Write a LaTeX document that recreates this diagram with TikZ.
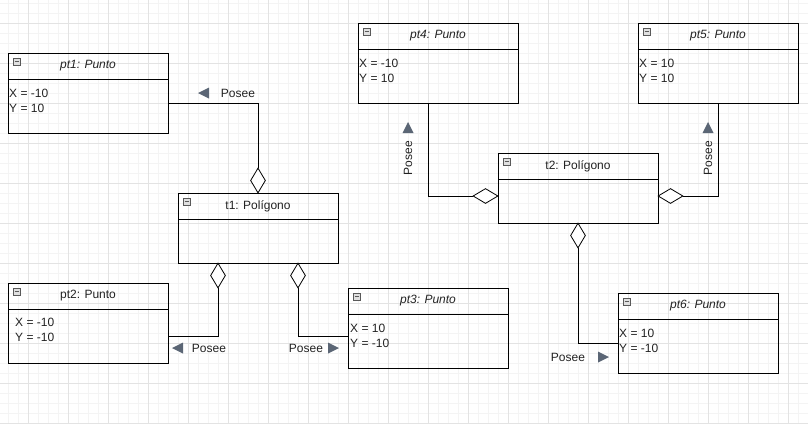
\documentclass[tikz,border=0pt]{standalone}
\usepackage{fontspec}
\setmainfont{Liberation Sans}
\usetikzlibrary{shapes.geometric}
\definecolor{rejilla}{HTML}{E3E3E3}
\definecolor{rejillafina}{HTML}{F4F4F4}
\definecolor{flecha}{HTML}{5B6675}
\definecolor{texto}{HTML}{222222}
\tikzset{
  objeto/.style={draw, line width=1pt, anchor=north west, minimum width=160pt, minimum height=80pt, inner sep=0pt},
  titulo/.style={font=\fontsize{12pt}{14pt}\selectfont, text=texto, inner sep=0pt},
  atributos/.style={font=\fontsize{12pt}{15pt}\selectfont, text=texto, align=left, anchor=west, inner sep=0pt},
  icono/.style={draw=gray!70!black, fill=gray!25, minimum size=7pt, inner sep=0pt, anchor=north west,
    path picture={\draw[line width=0.8pt] ([xshift=-2pt]path picture bounding box.center) -- ([xshift=2pt]path picture bounding box.center);}},
  rombo/.style={draw, fill=white, diamond, line width=0.8pt, inner sep=0pt},
  etiqueta/.style={font=\fontsize{12pt}{14pt}\selectfont, text=texto, inner sep=0pt},
  conector/.style={line width=0.8pt}
}
\begin{document}
\begin{tikzpicture}[x=1pt,y=-1pt]
    \useasboundingbox (0,0) rectangle (808,424);
    % rejilla
    \foreach \i in {8,18,...,808} \draw[rejillafina] (\i,0) -- (\i,424);
    \foreach \j in {3,13,...,423} \draw[rejillafina] (0,\j) -- (808,\j);
    \foreach \i in {28,68,...,788} \draw[rejilla] (\i,0) -- (\i,424);
    \foreach \j in {23,63,...,423} \draw[rejilla] (0,\j) -- (808,\j);

    % pt1 - Punto
    \node [objeto, name=pt1] at (8,53) {};
    \draw ([yshift=-26pt]pt1.north west) -- ([yshift=-26pt]pt1.north east);
    \node [icono, name=pt1i] at ([xshift=5pt,yshift=-5pt]pt1.north west) {};
    \node [titulo, name=pt1t] at (88,66) {\itshape pt1: Punto};
    \node [atributos, name=pt1a] at (9,101) {X = -10\\Y = 10};

    % pt2 - Punto
    \node [objeto, name=pt2] at (8,283) {};
    \draw ([yshift=-26pt]pt2.north west) -- ([yshift=-26pt]pt2.north east);
    \node [icono, name=pt2i] at ([xshift=5pt,yshift=-5pt]pt2.north west) {};
    \node [titulo, name=pt2t] at (88,296) {pt2: Punto};
    \node [atributos, name=pt2a] at (15,330) {X = -10\\Y = -10};

    % pt3 - Punto
    \node [objeto, name=pt3] at (348,288) {};
    \draw ([yshift=-26pt]pt3.north west) -- ([yshift=-26pt]pt3.north east);
    \node [icono, name=pt3i] at ([xshift=5pt,yshift=-5pt]pt3.north west) {};
    \node [titulo, name=pt3t] at (428,301) {\itshape pt3: Punto};
    \node [atributos, name=pt3a] at (350,336) {X = 10\\Y = -10};

    % pt4 - Punto
    \node [objeto, name=pt4] at (358,23) {};
    \draw ([yshift=-26pt]pt4.north west) -- ([yshift=-26pt]pt4.north east);
    \node [icono, name=pt4i] at ([xshift=5pt,yshift=-5pt]pt4.north west) {};
    \node [titulo, name=pt4t] at (438,36) {\itshape pt4: Punto};
    \node [atributos, name=pt4a] at (359,71) {X = -10\\Y = 10};

    % pt5 - Punto
    \node [objeto, name=pt5] at (638,23) {};
    \draw ([yshift=-26pt]pt5.north west) -- ([yshift=-26pt]pt5.north east);
    \node [icono, name=pt5i] at ([xshift=5pt,yshift=-5pt]pt5.north west) {};
    \node [titulo, name=pt5t] at (718,36) {\itshape pt5: Punto};
    \node [atributos, name=pt5a] at (639,71) {X = 10\\Y = 10};

    % pt6 - Punto
    \node [objeto, name=pt6] at (618,293) {};
    \draw ([yshift=-26pt]pt6.north west) -- ([yshift=-26pt]pt6.north east);
    \node [icono, name=pt6i] at ([xshift=5pt,yshift=-5pt]pt6.north west) {};
    \node [titulo, name=pt6t] at (698,306) {\itshape pt6: Punto};
    \node [atributos, name=pt6a] at (619,341) {X = 10\\Y = -10};

    % t1 - Poligono
    \node [objeto, minimum height=70pt, name=t1] at (178,193) {};
    \draw ([yshift=-26pt]t1.north west) -- ([yshift=-26pt]t1.north east);
    \node [icono, name=t1i] at ([xshift=5pt,yshift=-5pt]t1.north west) {};
    \node [titulo, name=t1t] at (258,206) {t1: Polígono};

    % t2 - Poligono
    \node [objeto, minimum height=70pt, name=t2] at (498,153) {};
    \draw ([yshift=-26pt]t2.north west) -- ([yshift=-26pt]t2.north east);
    \node [icono, name=t2i] at ([xshift=5pt,yshift=-5pt]t2.north west) {};
    \node [titulo, name=t2t] at (578,166) {t2: Polígono};

    % rombos de agregacion
    \node [rombo, minimum width=15pt, minimum height=25pt, name=d1] at (258,180.5) {};
    \node [rombo, minimum width=15pt, minimum height=25pt, name=d2] at (218,275.5) {};
    \node [rombo, minimum width=15pt, minimum height=25pt, name=d3] at (298,275.5) {};
    \node [rombo, minimum width=25pt, minimum height=15pt, name=d4] at (485.5,196) {};
    \node [rombo, minimum width=25pt, minimum height=15pt, name=d5] at (670.5,196) {};
    \node [rombo, minimum width=15pt, minimum height=25pt, name=d6] at (578,235.5) {};

    % conectores
    \coordinate (k1) at (258,103);
    \draw [conector] (k1 -| pt1.east) -- (k1) -- (d1.north);
    \coordinate (k2) at (218,336);
    \draw [conector] (k2 -| pt2.east) -- (k2) -- (d2.south);
    \coordinate (k3) at (298,336);
    \draw [conector] (d3.south) -- (k3) -- (k3 -| pt3.west);
    \coordinate (k4) at (428,196);
    \draw [conector] (k4 |- pt4.south) -- (k4) -- (d4.west);
    \coordinate (k5) at (718,196);
    \draw [conector] (k5 |- pt5.south) -- (k5) -- (d5.east);
    \coordinate (k6) at (578,343);
    \draw [conector] (d6.south) -- (k6) -- (k6 -| pt6.west);

    % etiquetas Posee
    \coordinate (f1) at (198,93);
    \fill [flecha] (f1) -- ++(11,-5.5) -- ++(0,11) -- cycle;
    \node [etiqueta, name=e1] at (238,93) {Posee};
    \coordinate (f2) at (172,348);
    \fill [flecha] (f2) -- ++(11,-5.5) -- ++(0,11) -- cycle;
    \node [etiqueta, name=e2] at (209,348) {Posee};
    \coordinate (f3) at (339,348);
    \fill [flecha] (f3) -- ++(-11,-5.5) -- ++(0,11) -- cycle;
    \node [etiqueta, name=e3] at (306,348) {Posee};
    \coordinate (f4) at (408,122);
    \fill [flecha] (f4) -- ++(5.5,11) -- ++(-11,0) -- cycle;
    \node [etiqueta, rotate=90, name=e4] at (408,158) {Posee};
    \coordinate (f5) at (708,122);
    \fill [flecha] (f5) -- ++(5.5,11) -- ++(-11,0) -- cycle;
    \node [etiqueta, rotate=90, name=e5] at (708,158) {Posee};
    \coordinate (f6) at (609,357);
    \fill [flecha] (f6) -- ++(-11,-5.5) -- ++(0,11) -- cycle;
    \node [etiqueta, name=e6] at (568,357) {Posee};
\end{tikzpicture}
\end{document}
